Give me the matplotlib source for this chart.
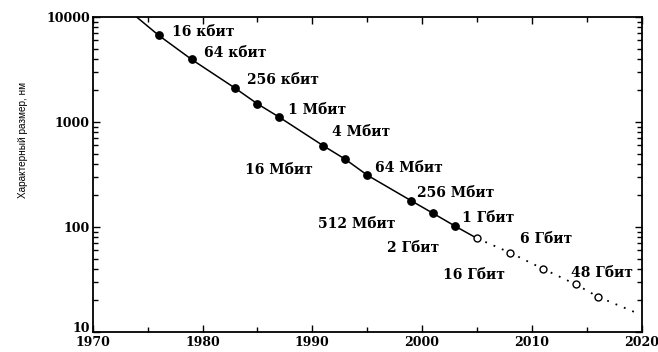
import matplotlib
matplotlib.use("Agg")
import matplotlib.pyplot as plt
from matplotlib.ticker import FixedLocator, FixedFormatter, LogLocator, NullFormatter, MultipleLocator

# ---- data ----
years_actual = [1976, 1979, 1983, 1985, 1987, 1991, 1993, 1995, 1999, 2001, 2003]
size_actual = [6700, 3950, 2090, 1490, 1110, 594, 442, 312, 178, 135, 102]

years_forecast = [2005, 2008, 2011, 2014, 2016]
size_forecast = [78, 57, 40, 28.4, 21.7]

trend_start = (1974.0, 10000)
trend_end = (2019.6, 15.1)

chip_labels = ["16 кбит", "64 кбит", "256 кбит", "1 Мбит", "4 Мбит", "16 Мбит",
               "64 Мбит", "256 Мбит", "512 Мбит", "1 Гбит", "2 Гбит",
               "6 Гбит", "16 Гбит", "48 Гбит"]

y_ticks = [10, 100, 1000, 10000]
y_ticklabels = ["10", "100", "1000", "10000"]
x_ticks = [1970, 1980, 1990, 2000, 2010, 2020]

ylabel = "Характерный размер, нм"

# label placement (axes fraction, left/center)
label_pos = [(0.144, 0.952), (0.203, 0.886), (0.281, 0.800), (0.356, 0.705),
             (0.436, 0.635), (0.277, 0.514), (0.514, 0.521), (0.591, 0.441),
             (0.410, 0.343), (0.673, 0.362), (0.536, 0.267), (0.778, 0.295),
             (0.638, 0.181), (0.871, 0.187)]

fig = plt.figure(figsize=(6.58, 3.52), dpi=100)
ax = fig.add_axes([92.7 / 658, 1 - 332 / 352, 549 / 658, 315 / 352])

# solid trend through actual points
sx = [trend_start[0]] + years_actual + [years_forecast[0]]
sy = [trend_start[1]] + size_actual + [size_forecast[0]]
ax.plot(sx, sy, color="black", lw=1.1, zorder=2)
# dotted forecast
dx = years_forecast + [trend_end[0]]
dy = size_forecast + [trend_end[1]]
ax.plot(dx, dy, color="black", lw=1.3, ls=(0, (1, 4)), zorder=2)

ax.plot(years_actual, size_actual, "o", color="black", ms=5.3, zorder=3)
ax.plot(years_forecast, size_forecast, "o", mfc="white", mec="black", mew=1.0,
        ms=5.0, zorder=3)

ax.set_yscale("log")
ax.set_xlim(1970, 2020)
ax.set_ylim(10, 10000)

ax.yaxis.set_major_locator(FixedLocator(y_ticks))
ax.yaxis.set_major_formatter(FixedFormatter(y_ticklabels))
ax.yaxis.set_minor_locator(LogLocator(base=10, subs=range(2, 10)))
ax.yaxis.set_minor_formatter(NullFormatter())
ax.xaxis.set_major_locator(FixedLocator(x_ticks))
ax.xaxis.set_minor_locator(MultipleLocator(5))

ax.tick_params(which="both", direction="in", top=True, right=True, width=1.0)
ax.tick_params(which="major", length=5)
ax.tick_params(which="minor", length=3.5)
ax.tick_params(axis="x", pad=3)
ax.tick_params(axis="y", pad=2)
for s in ax.spines.values():
    s.set_linewidth(1.3)

for lab in ax.get_xticklabels() + ax.get_yticklabels():
    lab.set_fontfamily("DejaVu Serif")
    lab.set_fontweight("bold")
    lab.set_fontsize(9)
ax.get_yticklabels()[0].set_verticalalignment("baseline")

for txt, (fx, fy) in zip(chip_labels, label_pos):
    ax.text(fx, fy, txt, transform=ax.transAxes, ha="left", va="center",
            fontfamily="DejaVu Serif", fontweight="bold", fontsize=10)

fig.text(23 / 658, 1 - 140 / 352, ylabel, rotation=90, ha="center", va="center",
         fontsize=7.2, family=["Liberation Sans Narrow", "Liberation Sans", "DejaVu Sans"])

fig.savefig("out.png", dpi=100)
